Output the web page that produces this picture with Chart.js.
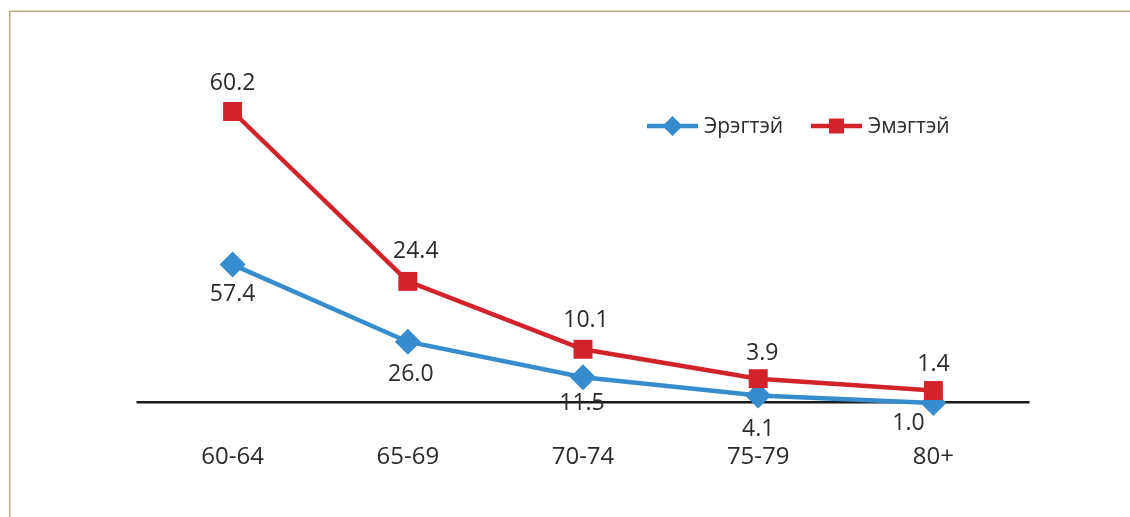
<!DOCTYPE html>
<html><head><meta charset="utf-8">
<script src="https://cdn.jsdelivr.net/npm/chart.js@4.4.1/dist/chart.umd.min.js"></script>
<style>html,body{margin:0;padding:0;background:#fff}#wrap{position:relative;width:1130px;height:517px}</style>
</head><body><div id="wrap"><canvas id="c" width="1130" height="517"></canvas></div>
<script>
const categories = ['60-64', '65-69', '70-74', '75-79', '80+'];
const maleValues = [57.4, 26.0, 11.5, 4.1, 1.0];
const femaleValues = [60.2, 24.4, 10.1, 3.9, 1.4];
const seriesNames = ['Эрэгтэй', 'Эмэгтэй'];

const BLUE = '#368CCD';
const RED = '#D2232A';
const TEXT = '#2b2b2b';
const FONT = '"Open Sans", "Noto Sans", sans-serif';

const labelOffsets = {
  male: [[0, 30], [3, 33], [-1, 26], [0, 34], [-25, 20]],
  female: [[0, -28], [8, -30], [3, -29], [4, -25], [0, -26]]
};

const framePlugin = {
  id: 'frame',
  beforeDraw(chart) {
    const ctx = chart.ctx;
    ctx.save();
    ctx.strokeStyle = '#b9aa80';
    ctx.lineWidth = 1.5;
    ctx.beginPath();
    ctx.moveTo(9.75, 517);
    ctx.lineTo(9.75, 11.25);
    ctx.lineTo(1130, 11.25);
    ctx.stroke();
    ctx.restore();
  }
};

const zeroLinePlugin = {
  id: 'zeroLine',
  beforeDatasetsDraw(chart) {
    const ctx = chart.ctx, a = chart.chartArea;
    ctx.save();
    ctx.strokeStyle = '#1a1a1a';
    ctx.lineWidth = 2.5;
    ctx.beginPath();
    ctx.moveTo(a.left - 8.5, a.bottom);
    ctx.lineTo(a.right + 8.5, a.bottom);
    ctx.stroke();
    ctx.restore();
  }
};

const dataLabelPlugin = {
  id: 'dataLabels',
  afterDatasetsDraw(chart) {
    const ctx = chart.ctx;
    ctx.save();
    ctx.font = '23px ' + FONT;
    ctx.fillStyle = TEXT;
    ctx.textAlign = 'center';
    ctx.textBaseline = 'middle';
    chart.data.datasets.forEach((ds, i) => {
      const meta = chart.getDatasetMeta(i);
      const offs = labelOffsets[ds.key];
      meta.data.forEach((pt, j) => {
        const o = offs[j];
        ctx.fillText(ds.data[j].toFixed(1), pt.x + o[0], pt.y + o[1]);
      });
    });
    ctx.restore();
  }
};

const legendPlugin = {
  id: 'customLegend',
  afterDraw(chart) {
    const ctx = chart.ctx;
    const items = [
      {ds: chart.data.datasets[0], x: 647, style: 'rectRot', r: 10},
      {ds: chart.data.datasets[1], x: 811, style: 'rect', r: 10.6}
    ];
    const y = 126;
    ctx.save();
    items.forEach(it => {
      ctx.strokeStyle = it.ds.borderColor;
      ctx.lineWidth = 4.5;
      ctx.beginPath();
      ctx.moveTo(it.x, y);
      ctx.lineTo(it.x + 51, y);
      ctx.stroke();
      ctx.fillStyle = it.ds.borderColor;
      Chart.helpers.drawPoint(ctx, {pointStyle: it.style, radius: it.r, borderWidth: 0, rotation: 0}, it.x + 25.5, y);
      ctx.fillStyle = TEXT;
      ctx.font = '21px ' + FONT;
      ctx.textAlign = 'left';
      ctx.textBaseline = 'middle';
      ctx.fillText(it.ds.label, it.x + 57, y + 1);
    });
    ctx.restore();
  }
};

new Chart(document.getElementById('c'), {
  type: 'line',
  data: {
    labels: categories,
    datasets: [
      {
        key: 'male', label: seriesNames[0], data: maleValues, yAxisID: 'yMale',
        borderColor: BLUE, backgroundColor: BLUE, borderWidth: 4.5,
        pointStyle: 'rectRot', pointRadius: 13, pointHoverRadius: 13,
        pointBackgroundColor: BLUE, pointBorderWidth: 0, tension: 0, order: 1
      },
      {
        key: 'female', label: seriesNames[1], data: femaleValues, yAxisID: 'yFemale',
        borderColor: RED, backgroundColor: RED, borderWidth: 4.5,
        pointStyle: 'rect', pointRadius: 13.4, pointHoverRadius: 13.4,
        pointBackgroundColor: RED, pointBorderWidth: 0, tension: 0, order: 0
      }
    ]
  },
  options: {
    responsive: false,
    animation: false,
    devicePixelRatio: 1,
    clip: false,
    layout: {padding: {left: 145, right: 109, top: 60, bottom: 4}},
    plugins: {legend: {display: false}, tooltip: {enabled: false}},
    scales: {
      x: {
        offset: true,
        grid: {display: false, drawTicks: false, tickLength: 0},
        border: {display: false},
        ticks: {color: TEXT, font: {family: FONT, size: 24}, padding: 41}
      },
      yMale: {display: false, min: 1.349, max: 140.76},
      yFemale: {display: false, min: -1.057, max: 71.05}
    }
  },
  plugins: [framePlugin, zeroLinePlugin, dataLabelPlugin, legendPlugin]
});
</script>
</body></html>
